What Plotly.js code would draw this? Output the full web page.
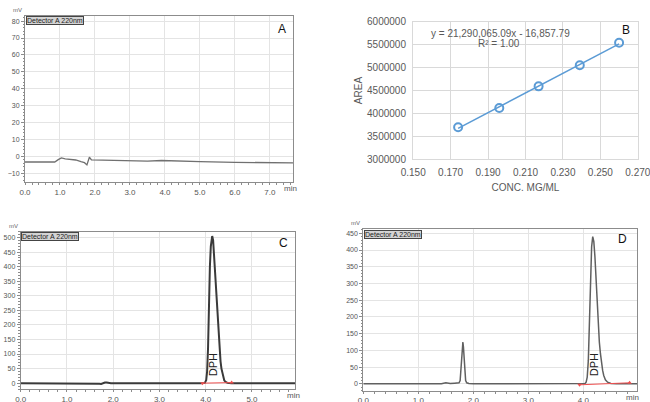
<!DOCTYPE html>
<html>
<head>
<meta charset="utf-8">
<script src="https://cdn.plot.ly/plotly-3.0.1.min.js"></script>
<style>html,body{margin:0;padding:0;background:#fff;}#chart{width:650px;height:402px;}</style>
</head>
<body>
<div id="chart"></div>
<script>
// ---------- Data ----------
// Panel A: blank chromatogram (min, mV)
const aTime   = [0.00, 0.50, 0.85, 0.95, 1.04, 1.15, 1.30, 1.45, 1.60, 1.70, 1.77, 1.80, 1.84, 1.90, 2.20, 3.00, 3.50, 3.90, 4.20, 5.00, 6.00, 7.00, 7.66];
const aSignal = [-3.2, -3.3, -3.2, -1.8, -0.8, -1.3, -1.8, -2.0, -3.0, -3.6, -4.9, -3.0, -0.4, -2.0, -2.2, -2.5, -2.7, -2.3, -2.6, -3.0, -3.4, -3.7, -3.7];

// Panel B: calibration curve
const bConc = [0.174, 0.196, 0.217, 0.239, 0.260];
const bArea = [3700000, 4120000, 4590000, 5050000, 5540000];
const bEquation = "y = 21,290,065.09x - 16,857.79";
const bR2 = "R² = 1.00";

// Panel C: standard chromatogram
const cTime   = [0.00, 1.65, 1.70, 1.74, 1.78, 1.82, 1.86, 1.90, 1.95, 3.90, 3.98, 4.01, 4.03, 4.05, 4.07, 4.09, 4.11, 4.13, 4.14, 4.16, 4.18, 4.20, 4.22, 4.24, 4.26, 4.28, 4.30, 4.32, 4.34, 4.36, 4.38, 4.40, 4.43, 4.47, 4.55, 5.93];
const cSignal = [0, 0, -2, -3, 0, 2, 2, 0, 0, 0, 1, 10, 40, 120, 280, 400, 470, 500, 505, 490, 440, 380, 320, 260, 200, 150, 110, 75, 50, 32, 20, 10, 4, 1, 0, 0];
const cBaseTime   = [3.93, 4.56];
const cBaseSignal = [0, 2];

// Panel D: sample chromatogram
const dTime   = [0.00, 1.42, 1.50, 1.58, 1.66, 1.70, 1.74, 1.76, 1.78, 1.80, 1.81, 1.82, 1.84, 1.86, 1.88, 1.92, 2.00, 2.28, 2.35, 2.42, 3.95, 4.03, 4.05, 4.07, 4.09, 4.11, 4.13, 4.15, 4.17, 4.19, 4.21, 4.23, 4.25, 4.27, 4.29, 4.31, 4.33, 4.35, 4.37, 4.40, 4.44, 4.50, 4.60, 4.98];
const dSignal = [0, 0, 3, 1, 2, 2, 3, 10, 50, 115, 125, 110, 45, 10, 3, 1, 0, 0, 2, 0, 0, 1, 5, 20, 70, 190, 320, 410, 440, 425, 380, 310, 240, 175, 125, 90, 60, 40, 25, 12, 5, 1, 0, 0];
const dBaseTime   = [3.93, 4.84];
const dBaseSignal = [-3, 3];

const peakName = "DPH";
const detectorLabel = "Detector A 220nm";
const panelLetters = ["A", "B", "C", "D"];

// ---------- Layout helpers ----------
const W = 650, H = 402;
const px = x => x / W;
const py = y => 1 - y / H;
const FONT = "Liberation Sans, Arial, sans-serif";

// least-squares trendline from the calibration data
const n = bConc.length;
const mx = bConc.reduce((s, v) => s + v, 0) / n;
const my = bArea.reduce((s, v) => s + v, 0) / n;
let sxy = 0, sxx = 0;
for (let i = 0; i < n; i++) { sxy += (bConc[i] - mx) * (bArea[i] - my); sxx += (bConc[i] - mx) ** 2; }
const slope = sxy / sxx, icpt = my - slope * mx;
const trendX = [bConc[0], bConc[n - 1]];
const trendY = trendX.map(x => slope * x + icpt);

const traces = [
  {x: aTime, y: aSignal, xaxis: "x", yaxis: "y", mode: "lines", line: {color: "#707070", width: 1.3}, hoverinfo: "skip"},
  {x: trendX, y: trendY, xaxis: "x2", yaxis: "y2", mode: "lines", line: {color: "#5B9BD5", width: 1.5}, hoverinfo: "skip"},
  {x: bConc, y: bArea, xaxis: "x2", yaxis: "y2", mode: "markers",
   marker: {symbol: "circle-open", size: 8, color: "#5B9BD5", line: {width: 2, color: "#5B9BD5"}}},
  {x: cTime, y: cSignal, xaxis: "x3", yaxis: "y3", mode: "lines", line: {color: "#3a3a3a", width: 2}, hoverinfo: "skip"},
  {x: cBaseTime, y: cBaseSignal, xaxis: "x3", yaxis: "y3", mode: "lines+markers", line: {color: "#f05050", width: 1},
   marker: {symbol: ["triangle-down", "triangle-up"], size: 4, color: "#f05050"}},
  {x: dTime, y: dSignal, xaxis: "x4", yaxis: "y4", mode: "lines", line: {color: "#606060", width: 1.5}, hoverinfo: "skip"},
  {x: dBaseTime, y: dBaseSignal, xaxis: "x4", yaxis: "y4", mode: "lines+markers", line: {color: "#f05050", width: 1},
   marker: {symbol: ["triangle-down", "triangle-up"], size: 4, color: "#f05050"}}
];

function chromX(domain, range, anchor) {
  return {domain: domain, range: range, anchor: anchor, dtick: 1, tick0: 0, tickformat: ".1f",
    showline: true, mirror: true, linecolor: "#8c8c8c", linewidth: 1,
    showgrid: true, gridcolor: "#e4e4e4", gridwidth: 1, zeroline: false,
    ticks: "outside", ticklen: 2, tickcolor: "#8c8c8c",
    minor: {dtick: 0.2, ticks: "outside", ticklen: 2, tickcolor: "#8c8c8c", showgrid: false},
    tickfont: {family: FONT, size: 8, color: "#555"}, fixedrange: true};
}
function chromY(domain, range, anchor, dtick) {
  return {domain: domain, range: range, anchor: anchor, dtick: dtick, tick0: 0,
    showline: true, mirror: true, linecolor: "#8c8c8c", linewidth: 1,
    showgrid: true, gridcolor: "#e4e4e4", gridwidth: 1, zeroline: false,
    ticks: "outside", ticklen: 3, tickcolor: "#8c8c8c",
    minor: {dtick: dtick / 5, ticks: "outside", ticklen: 1.5, tickcolor: "#8c8c8c", showgrid: false},
    tickfont: {family: FONT, size: 7, color: "#555"}, ticklabelstandoff: 0, fixedrange: true};
}

// plot-area pixel boxes [left, right, top, bottom]
const boxA = [25, 293, 16, 182];
const boxB = [413, 638, 21.7, 159.3];
const boxC = [20.7, 295, 231.7, 389];
const boxD = [363.3, 637.3, 229.3, 390.5];
const dx = b => [px(b[0]), px(b[1])];
const dy = b => [py(b[3]), py(b[2])];

const layout = {
  width: W, height: H, margin: {l: 0, r: 0, t: 0, b: 0},
  paper_bgcolor: "#fff", plot_bgcolor: "#fff", showlegend: false,
  font: {family: FONT},
  xaxis: chromX(dx(boxA), [0, 7.66], "y"),
  yaxis: chromY(dy(boxA), [-15, 83], "x", 10),
  xaxis2: {domain: dx(boxB), range: [0.1499, 0.2701], anchor: "y2", dtick: 0.02, tick0: 0.15, tickformat: ".3f",
    showline: true, mirror: true, linecolor: "#d9d9d9", showgrid: true, gridcolor: "#d9d9d9", zeroline: false,
    ticks: "", tickfont: {family: FONT, size: 10, color: "#595959"}, ticklabelstandoff: 4, ticklabeloverflow: "allow",
    title: {text: "CONC. MG/ML", font: {family: FONT, size: 10, color: "#595959"}, standoff: 6}, fixedrange: true},
  yaxis2: {domain: dy(boxB), range: [3000000, 6000000], anchor: "x2", dtick: 500000, tickformat: "d",
    showline: true, mirror: true, linecolor: "#d9d9d9", showgrid: true, gridcolor: "#d9d9d9", zeroline: false,
    ticks: "", tickfont: {family: FONT, size: 10, color: "#595959"}, ticklabelstandoff: 4,
    title: {text: "AREA", font: {family: FONT, size: 10, color: "#595959"}, standoff: 2}, fixedrange: true},
  xaxis3: chromX(dx(boxC), [0, 5.93], "y3"),
  yaxis3: chromY(dy(boxC), [-20, 520], "x3", 50),
  xaxis4: chromX(dx(boxD), [0, 4.98], "y4"),
  yaxis4: chromY(dy(boxD), [-20, 462], "x4", 50),
  annotations: []
};

const ann = layout.annotations;
// panel letters
[[281.7, 29.3], [626, 30], [283.3, 243.3], [622.7, 239.3]].forEach((p, i) => {
  ann.push({xref: "paper", yref: "paper", x: px(p[0]), y: py(p[1]), text: panelLetters[i], showarrow: false,
    xanchor: "center", yanchor: "middle", font: {family: FONT, size: 12, color: "#111"}});
});
// detector boxes and mV labels
[boxA, boxC, boxD].forEach(b => {
  ann.push({xref: "paper", yref: "paper", x: px(b[0] + 0.5), y: py(b[2] + 0.5), text: detectorLabel, showarrow: false,
    xanchor: "left", yanchor: "top", font: {family: FONT, size: 7, color: "#222"},
    bgcolor: "#d4d4d4", bordercolor: "#444", borderwidth: 1, borderpad: 0});
  ann.push({xref: "paper", yref: "paper", x: px(b[0] - 1), y: py(b[2] - 1), text: "mV", showarrow: false,
    xanchor: "right", yanchor: "bottom", font: {family: FONT, size: 6, color: "#666"}});
});
// "min" labels at end of x axes
[[290, 188], [293, 395.5], [632, 397]].forEach(p => {
  ann.push({xref: "paper", yref: "paper", x: px(p[0]), y: py(p[1]), text: "min", showarrow: false,
    xanchor: "center", yanchor: "middle", font: {family: FONT, size: 8, color: "#555"}});
});
// B equation
ann.push({xref: "paper", yref: "paper", x: px(500), y: py(33), text: bEquation, showarrow: false,
  xanchor: "center", yanchor: "middle", font: {family: FONT, size: 10, color: "#595959"}});
ann.push({xref: "paper", yref: "paper", x: px(499), y: py(44), text: bR2, showarrow: false,
  xanchor: "center", yanchor: "middle", font: {family: FONT, size: 10, color: "#595959"}});
// DPH peak labels
ann.push({xref: "paper", yref: "paper", x: px(213.3), y: py(365), text: peakName, textangle: -90, showarrow: false,
  xanchor: "center", yanchor: "middle", font: {family: FONT, size: 11, color: "#222"}});
ann.push({xref: "paper", yref: "paper", x: px(594.3), y: py(365), text: peakName, textangle: -90, showarrow: false,
  xanchor: "center", yanchor: "middle", font: {family: FONT, size: 11, color: "#222"}});

Plotly.newPlot("chart", traces, layout, {staticPlot: true, displayModeBar: false});
</script>
</body>
</html>
